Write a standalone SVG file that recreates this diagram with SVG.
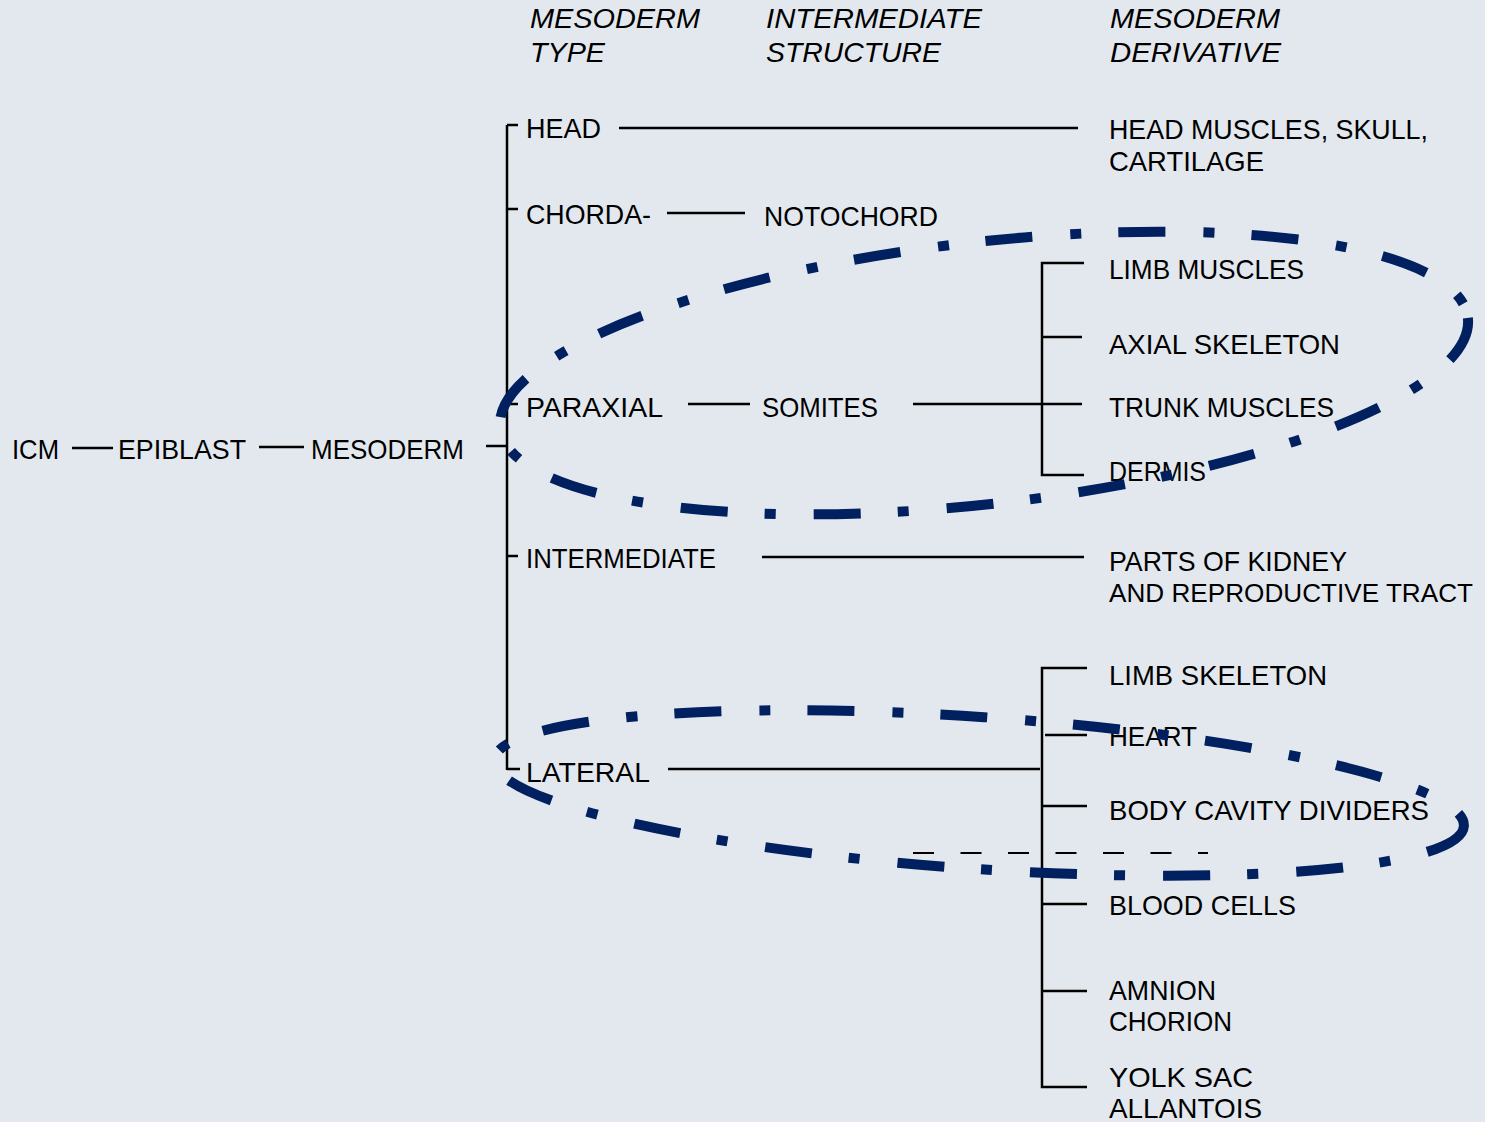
<svg xmlns="http://www.w3.org/2000/svg" width="1485" height="1122" viewBox="0 0 1485 1122">
<style>
text{font-family:"Liberation Sans",Arial,sans-serif;font-size:28px;fill:#000}
.h{font-style:italic}
.ln{stroke:#000;stroke-width:2.5;fill:none}
.dl{stroke:#000;stroke-width:2;stroke-dasharray:21 26.5;fill:none}
.ov{stroke:#002060;stroke-width:10;fill:none;stroke-dasharray:47 38 11 37}
</style>
<rect width="1485" height="1122" fill="#e3e8ef"/>
<g id="headers">
<text class="h" x="530" y="28" textLength="170" lengthAdjust="spacingAndGlyphs">MESODERM</text>
<text class="h" x="530" y="62" textLength="75" lengthAdjust="spacingAndGlyphs">TYPE</text>
<text class="h" x="766" y="28" textLength="216" lengthAdjust="spacingAndGlyphs">INTERMEDIATE</text>
<text class="h" x="766" y="62" textLength="175" lengthAdjust="spacingAndGlyphs">STRUCTURE</text>
<text class="h" x="1110" y="28" textLength="170" lengthAdjust="spacingAndGlyphs">MESODERM</text>
<text class="h" x="1110" y="62" textLength="171" lengthAdjust="spacingAndGlyphs">DERIVATIVE</text>
</g>
<g id="connectors">
<path class="ln" d="M72 448H113M259 447H304M486 446H507M507 125V770M507 125H518M507 209H518M507 404H518M507 556H518M507 769H520"/>
<path class="ln" d="M619 128H1078M667 213H745M688 404H750M913 404H1042M762 557H1084M668 769H1040"/>
<path class="ln" d="M1084 263H1042V475H1084M1042 337H1082M1042 404H1082"/>
<path class="ln" d="M1087 668H1042V1087H1087M1045 735H1087M1042 806H1087M1042 904H1087M1042 991H1087"/>
<path class="dl" d="M913 853H1208"/>
</g>
<g id="n-icm"><text x="12" y="459" textLength="47" lengthAdjust="spacingAndGlyphs">ICM</text></g>
<g id="n-epiblast"><text x="118" y="459" textLength="128" lengthAdjust="spacingAndGlyphs">EPIBLAST</text></g>
<g id="n-mesoderm"><text x="311" y="459" textLength="153" lengthAdjust="spacingAndGlyphs">MESODERM</text></g>
<g id="n-head"><text x="526" y="138" textLength="75" lengthAdjust="spacingAndGlyphs">HEAD</text></g>
<g id="n-chorda"><text x="526" y="224" textLength="125" lengthAdjust="spacingAndGlyphs">CHORDA-</text></g>
<g id="n-paraxial"><text x="526" y="417" textLength="137" lengthAdjust="spacingAndGlyphs">PARAXIAL</text></g>
<g id="n-intermediate"><text x="526" y="568" textLength="190" lengthAdjust="spacingAndGlyphs">INTERMEDIATE</text></g>
<g id="n-lateral"><text x="526" y="782" textLength="124" lengthAdjust="spacingAndGlyphs">LATERAL</text></g>
<g id="n-notochord"><text x="764" y="226" textLength="174" lengthAdjust="spacingAndGlyphs">NOTOCHORD</text></g>
<g id="n-somites"><text x="762" y="417" textLength="116" lengthAdjust="spacingAndGlyphs">SOMITES</text></g>
<g id="n-headmuscles"><text x="1109" y="139" textLength="319" lengthAdjust="spacingAndGlyphs">HEAD MUSCLES, SKULL,</text><text x="1109" y="171" textLength="155" lengthAdjust="spacingAndGlyphs">CARTILAGE</text></g>
<g id="n-limbmuscles"><text x="1109" y="279" textLength="195" lengthAdjust="spacingAndGlyphs">LIMB MUSCLES</text></g>
<g id="n-axial"><text x="1109" y="354" textLength="231" lengthAdjust="spacingAndGlyphs">AXIAL SKELETON</text></g>
<g id="n-trunk"><text x="1109" y="417" textLength="225" lengthAdjust="spacingAndGlyphs">TRUNK MUSCLES</text></g>
<g id="n-dermis"><text x="1109" y="481" textLength="97" lengthAdjust="spacingAndGlyphs">DERMIS</text></g>
<g id="n-kidney"><text x="1109" y="571" textLength="238" lengthAdjust="spacingAndGlyphs">PARTS OF KIDNEY</text><text x="1109" y="602" style="font-size:26px" textLength="364" lengthAdjust="spacingAndGlyphs">AND REPRODUCTIVE TRACT</text></g>
<g id="n-limbskeleton"><text x="1109" y="685" textLength="218" lengthAdjust="spacingAndGlyphs">LIMB  SKELETON</text></g>
<g id="n-heart"><text x="1109" y="746" textLength="88" lengthAdjust="spacingAndGlyphs">HEART</text></g>
<g id="n-bodycavity"><text x="1109" y="820" textLength="320" lengthAdjust="spacingAndGlyphs">BODY  CAVITY  DIVIDERS</text></g>
<g id="n-blood"><text x="1109" y="915" textLength="187" lengthAdjust="spacingAndGlyphs">BLOOD CELLS</text></g>
<g id="n-amnion"><text x="1109" y="1000" textLength="107" lengthAdjust="spacingAndGlyphs">AMNION</text><text x="1109" y="1031" textLength="123" lengthAdjust="spacingAndGlyphs">CHORION</text></g>
<g id="n-yolk"><text x="1109" y="1087" textLength="144" lengthAdjust="spacingAndGlyphs">YOLK SAC</text><text x="1109" y="1118" textLength="153" lengthAdjust="spacingAndGlyphs">ALLANTOIS</text></g>
<g id="highlights">
<ellipse class="ov" cx="984" cy="373" rx="487" ry="131" transform="rotate(-6.5 984 373)"/>
<ellipse class="ov" cx="979" cy="793" rx="486" ry="76" transform="rotate(3.9 979 793)"/>
</g>
</svg>
